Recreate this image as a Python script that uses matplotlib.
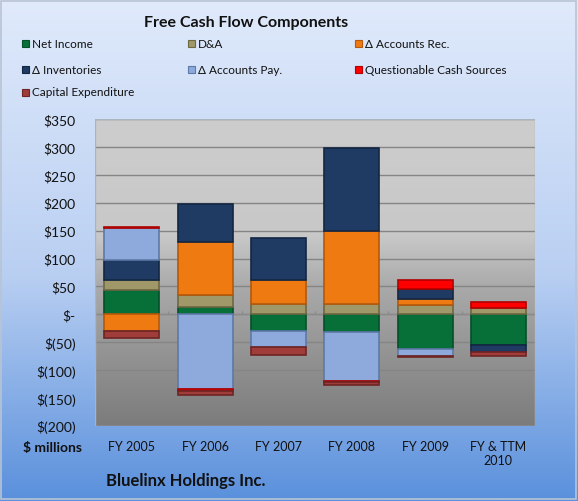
import numpy as np
import matplotlib
matplotlib.use("Agg")
import matplotlib.pyplot as plt
from matplotlib.colors import LinearSegmentedColormap
from matplotlib.patches import Rectangle

plt.rcParams['font.family'] = ['Lato', 'DejaVu Sans']

# data ($ millions)
years = ["FY 2005", "FY 2006", "FY 2007", "FY 2008", "FY 2009", "FY & TTM\n2010"]
net_income = [43, 14, -29, -32, -62, -54]
d_and_a = [18, 20, 18, 18, 16, 12]
d_accounts_rec = [-30, 95, 44, 132, 11, 0]
d_inventories = [37, 68, 75, 148, 18, -14]
d_accounts_pay = [57, -134, -30, -88, -12, 0]
questionable = [2, -3, 0, -2, 16, 11]
capex = [-13, -8, -14, -5, -2, -7]

series = [
    ("Net Income", net_income, "#077038", "#04502a"),
    ("D&A", d_and_a, "#a09868", "#6e6843"),
    ("\u0394 Accounts Rec.", d_accounts_rec, "#f07a12", "#b5590a"),
    ("\u0394 Inventories", d_inventories, "#1f3b63", "#132644"),
    ("\u0394 Accounts Pay.", d_accounts_pay, "#8eaadc", "#5d79a8"),
    ("Questionable Cash Sources", questionable, "#ff0000", "#b00000"),
    ("Capital Expenditure", capex, "#a03c3a", "#6e2524"),
]

fig = plt.figure(figsize=(5.78, 5.02), dpi=100)

# light blue background gradient of the chart area
bg = fig.add_axes([0, 0, 1, 1], zorder=-10)
bg_cmap = LinearSegmentedColormap.from_list("bg", [(0, "#5a90dc"), (0.45, "#b9cff2"), (1, "#e0eafb")])
bg.imshow(np.linspace(0, 1, 256).reshape(-1, 1), aspect="auto", cmap=bg_cmap,
          origin="lower", extent=[0, 1, 0, 1])
bg.add_patch(Rectangle((0.002, 0.003), 0.994, 0.993, fill=False, edgecolor="#b8c4d4", lw=1.2))
bg.set_xlim(0, 1)
bg.set_ylim(0, 1)
bg.axis("off")

ax = fig.add_axes([95 / 578, 1 - 427 / 502, 440 / 578, 307 / 502])
ax.set_xlim(-0.5, len(years) - 0.5)
ax.set_ylim(-200, 350)

# gray plot area gradient
pa_cmap = LinearSegmentedColormap.from_list("pa", [(0, "#7c7c7c"), (0.45, "#a9a9a9"), (0.62, "#c8c8c8"), (1, "#cdcdcd")])
ax.imshow(np.linspace(0, 1, 256).reshape(-1, 1), aspect="auto", cmap=pa_cmap, origin="lower",
          extent=[0, 1, 0, 1], transform=ax.transAxes, zorder=0)

ax.set_yticks(np.arange(-200, 351, 50))
ax.yaxis.grid(True, color="#858585", lw=1)
ax.set_axisbelow(True)

x = np.arange(len(years))
pos_base = np.zeros(len(years))
neg_base = np.zeros(len(years))
for name, vals, col, edge in series:
    v = np.array(vals, dtype=float)
    bottom = np.where(v >= 0, pos_base, neg_base)
    keep = v != 0
    ax.bar(x[keep], v[keep], 0.75, bottom=bottom[keep], color=col, edgecolor=edge, lw=1.2, zorder=3)
    pos_base += np.where(v >= 0, v, 0)
    neg_base += np.where(v < 0, v, 0)

ax.axhline(0, color="#8c8c8c", lw=1, zorder=2)
ax.vlines(np.arange(len(years) + 1) - 0.5, 0, 6, color="#8c8c8c", lw=1, zorder=2)


def money(v, pos=None):
    if v == 0:
        return "$-"
    if v < 0:
        return "$(%d)" % -v
    return "$%d" % v


ax.yaxis.set_major_formatter(plt.FuncFormatter(money))
ax.set_xticks(x)
ax.set_xticklabels(years)
ax.tick_params(axis="both", length=0, labelsize=9, colors="#111111")
ax.tick_params(axis="y", pad=14, labelsize=10)
ax.tick_params(axis="x", pad=10)
for s in ax.spines.values():
    s.set_visible(False)
ax.add_patch(Rectangle((0, 0), 1, 1, transform=ax.transAxes, fill=False, edgecolor="#aab4c0", lw=1, zorder=4))

fig.text(246 / 578, 1 - 23 / 502, "Free Cash Flow Components", ha="center", va="center",
         fontsize=11.5, fontweight="bold", color="#111111")

# legend, three per row
col_x = [22 / 578, 188 / 578, 355 / 578]
row_y = [1 - 44 / 502, 1 - 70 / 502, 1 - 93 / 502]
for i, (name, vals, col, edge) in enumerate(series):
    r, c = divmod(i, 3)
    fig.patches.append(Rectangle((col_x[c], row_y[r] - 3.5 / 502), 7 / 578, 7 / 502,
                                 transform=fig.transFigure, facecolor=col, edgecolor=edge, lw=0.8))
    fig.text(col_x[c] + 10 / 578, row_y[r], name, ha="left", va="center", fontsize=8.5, color="#111111")

fig.text(82 / 578, 1 - 448 / 502, "$ millions", ha="right", va="center", fontsize=10,
         fontweight="bold", color="#111111")
fig.text(106 / 578, 1 - 481 / 502, "Bluelinx Holdings Inc.", ha="left", va="center", fontsize=12,
         fontweight="bold", color="#111111")

fig.savefig("out.png", dpi=100)
